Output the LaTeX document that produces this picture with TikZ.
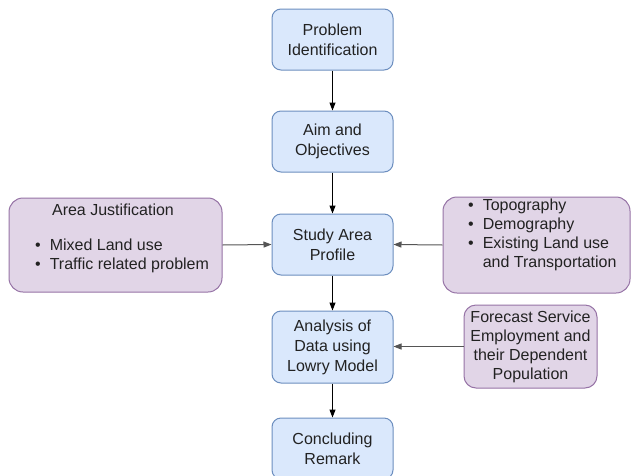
\documentclass[tikz,border=0pt]{standalone}
\usepackage{fontspec}
\setmainfont{Liberation Sans}
\usetikzlibrary{arrows.meta}
\definecolor{bfill}{HTML}{DAE8FC}
\definecolor{bdraw}{HTML}{6C8EBF}
\definecolor{pfill}{HTML}{E1D5E7}
\definecolor{pdraw}{HTML}{9673A6}
\definecolor{txt}{HTML}{222222}
\definecolor{sidearr}{HTML}{555555}
\begin{document}
\begin{tikzpicture}[x=1pt,y=-1pt,
  bluebox/.style={draw=bdraw, fill=bfill, rounded corners=9pt, line width=1pt,
    minimum width=121pt, inner sep=0pt, align=center, text=txt,
    font=\fontsize{16}{20}\selectfont},
  purplebox/.style={draw=pdraw, fill=pfill, rounded corners=14pt, line width=1pt, inner sep=0pt},
  lbl/.style={inner sep=0pt, align=center, text=txt, font=\fontsize{16}{19}\selectfont},
  arr/.style={-{Triangle[length=8pt,width=6pt]}, line width=1pt, draw=black},
  sarr/.style={-{Triangle[length=8pt,width=6pt]}, line width=1pt, draw=sidearr}
]
\useasboundingbox (0,0) rectangle (633,475);
\fill[white] (0,0) rectangle (633,475);

% main column
\node[bluebox, minimum height=61pt] (pi) at (332.5,39.5) {Problem\\Identification};
\node[bluebox, minimum height=61pt] (ao) at (332.5,141.5) {Aim and\\Objectives};
\node[bluebox, minimum height=61pt] (sa) at (332.5,244.5) {Study Area\\Profile};
\node[bluebox, minimum height=72pt] (ad) at (332.5,347) {Analysis of\\Data using\\Lowry Model};
\node[bluebox, minimum height=61pt] (cr) at (332.5,448.5) {Concluding\\Remark};

% side boxes
\node[purplebox, minimum width=213pt, minimum height=94pt] (aj) at (115.5,245) {};
\node[lbl] (ajt) at (113,210) {Area Justification};
\node[lbl, anchor=west] (ajl) at (35,256) {\begin{tabular}{@{}l@{\hspace{9pt}}l@{}}\textbullet & Mixed Land use\\ \textbullet & Traffic related problem\end{tabular}};

\node[purplebox, minimum width=187pt, minimum height=96pt] (rb) at (536.5,245) {};
\node[lbl, anchor=west] (rbl) at (468,235.5) {\begin{tabular}{@{}l@{\hspace{9pt}}l@{}}\textbullet & Topography\\ \textbullet & Demography\\ \textbullet & Existing Land use\\ & and Transportation\end{tabular}};

\node[purplebox, minimum width=133pt, minimum height=83pt, rounded corners=12pt] (fc) at (530.5,346.5) {};
\node[lbl] (fct) at (530.5,346.5) {Forecast Service\\Employment and\\their Dependent\\Population};

% connectors
\draw[arr] (pi) -- (ao);
\draw[arr] (ao) -- (sa);
\draw[arr] (sa) -- (ad);
\draw[arr] (ad) -- (cr);
\draw[sarr] (aj.east) -- (sa.west);
\draw[sarr] (rb.west) -- (sa.east);
\draw[sarr] (fc.west) -- (fc.west -| ad.east);
\end{tikzpicture}
\end{document}
